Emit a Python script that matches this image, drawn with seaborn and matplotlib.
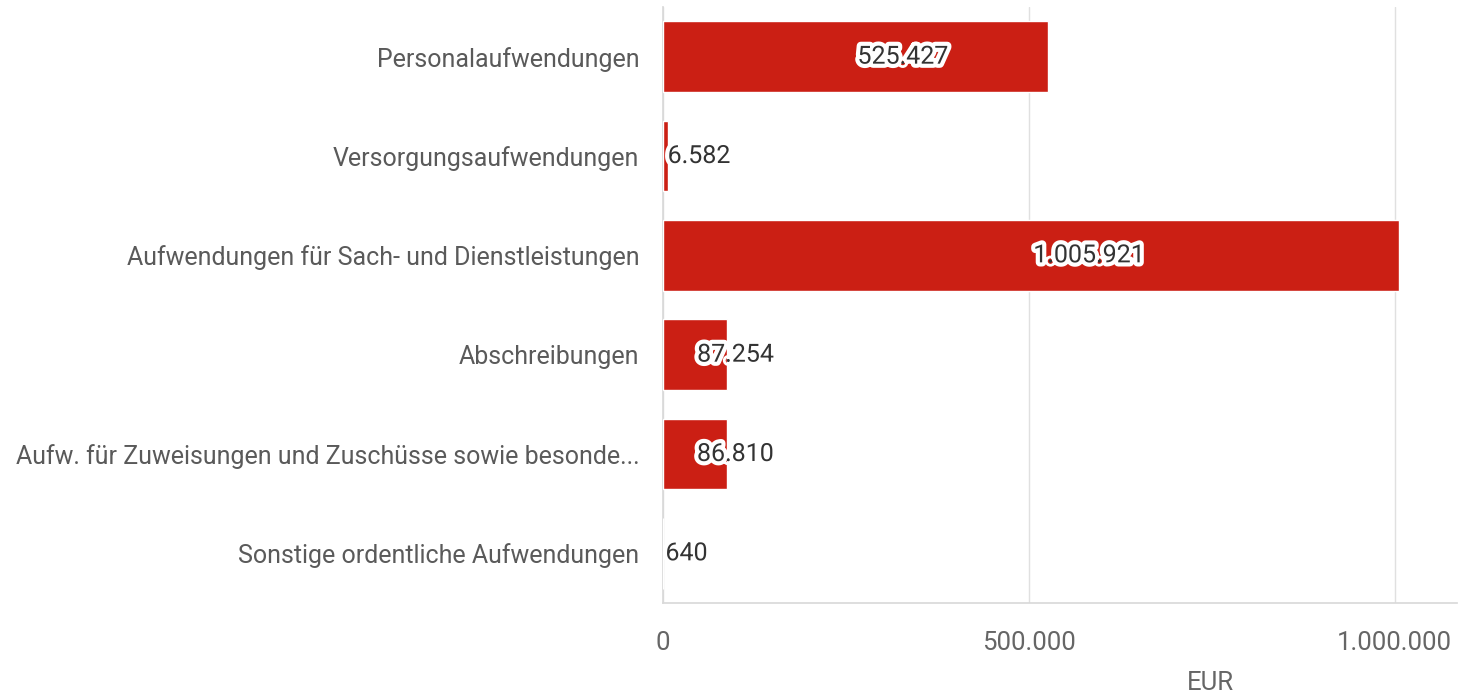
import matplotlib
matplotlib.use("Agg")
import matplotlib.pyplot as plt
import matplotlib.patheffects as pe
import seaborn as sns
import pandas as pd

categories = [
    "Personalaufwendungen",
    "Versorgungsaufwendungen",
    "Aufwendungen für Sach- und Dienstleistungen",
    "Abschreibungen",
    "Aufw. für Zuweisungen und Zuschüsse sowie besonde...",
    "Sonstige ordentliche Aufwendungen",
]
values = [525427, 6582, 1005921, 87254, 86810, 640]
x_ticks = [0, 500000, 1000000]
x_label = "EUR"

def de_fmt(v):
    return f"{v:,.0f}".replace(",", ".")

sns.set_theme(style="white")
plt.rcParams["font.family"] = ["Roboto", "DejaVu Sans"]

df = pd.DataFrame({"cat": categories, "val": values})

fig = plt.figure(figsize=(14.59, 6.98), dpi=100)
ax = fig.add_axes([663 / 1459, 95 / 698, 794 / 1459, 596 / 698])

sns.barplot(data=df, x="val", y="cat", orient="h", color="#CB1F14",
            saturation=1, width=0.71, ax=ax, zorder=3)

ax.set_xlim(0, 1085000)
ax.set_ylim(5.5, -0.5)
ax.set_xticks(x_ticks)
ax.set_xticklabels([de_fmt(t) for t in x_ticks])
ax.grid(axis="x", color="#e0e0e0", linewidth=1, zorder=0)
ax.grid(axis="y", visible=False)

for s in ["top", "right"]:
    ax.spines[s].set_visible(False)
ax.spines["left"].set_color("#d9d9d9")
ax.spines["bottom"].set_color("#d9d9d9")

ax.tick_params(axis="x", length=12, width=1, color="#e0e0e0", pad=8,
               labelsize=18.5, labelcolor="#666666")
ax.tick_params(axis="y", length=0, pad=17, labelsize=18, labelcolor="#5a5a5a")

ax.set_ylabel("")
ax.set_xlabel(x_label, fontsize=18.5, color="#666666")
ax.xaxis.set_label_coords(0.69, -0.114)

for i, v in enumerate(values):
    ax.text(v / 2 + 3000, i, de_fmt(v), ha="left", va="center",
            fontsize=18, color="#333333", zorder=5,
            path_effects=[pe.withStroke(linewidth=6, foreground="white")])

fig.savefig("out.png", dpi=100)
